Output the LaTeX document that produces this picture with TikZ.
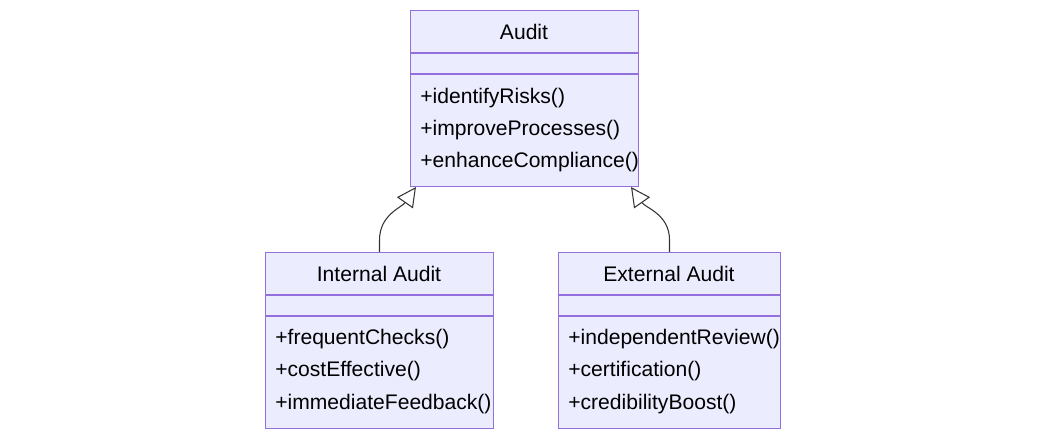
\documentclass[tikz,border=0pt]{standalone}
\usepackage{fontspec}
\setmainfont{Liberation Sans}
\usetikzlibrary{arrows.meta}
\definecolor{boxfill}{HTML}{ECECFF}
\definecolor{boxline}{HTML}{9370DB}
\tikzset{
  cls/.style={draw=boxline, fill=boxfill, line width=0.6pt, anchor=north west, inner sep=0pt},
  mth/.style={anchor=west, inner sep=0pt, font=\fontsize{12}{14}\selectfont},
  ttl/.style={inner sep=0pt, font=\fontsize{12}{14}\selectfont},
  inherit/.style={-{Triangle[open, length=11pt, width=11pt]}, line width=0.6pt, black!80}
}
\begin{document}
\begin{tikzpicture}[x=0.02cm, y=-0.02cm]
		\useasboundingbox (0,0) rectangle (1046,439);
		% class boxes
		\node[cls, minimum width=4.56cm, minimum height=3.52cm] (audit) at (410,10) {};
		\node[cls, minimum width=4.56cm, minimum height=3.52cm] (int) at (265,252) {};
		\node[cls, minimum width=4.44cm, minimum height=3.52cm] (ext) at (558,252) {};
		% dividers
		\draw[boxline, line width=0.6pt] (410,53) -- (638,53) (410,74) -- (638,74);
		\draw[boxline, line width=0.6pt] (265,295) -- (493,295) (265,316) -- (493,316);
		\draw[boxline, line width=0.6pt] (558,295) -- (780,295) (558,316) -- (780,316);
		% titles
		\node[ttl] (audittitle) at (524,32) {Audit};
		\node[ttl] (inttitle) at (379,274) {Internal Audit};
		\node[ttl] (exttitle) at (669,274) {External Audit};
		% methods
		\node[mth] (a1) at (420,98) {+identifyRisks()};
		\node[mth] (a2) at (420,130) {+improveProcesses()};
		\node[mth] (a3) at (420,162) {+enhanceCompliance()};
		\node[mth] (i1) at (275,339) {+frequentChecks()};
		\node[mth] (i2) at (275,371) {+costEffective()};
		\node[mth] (i3) at (275,404) {+immediateFeedback()};
		\node[mth] (e1) at (568,339) {+independentReview()};
		\node[mth] (e2) at (568,371) {+certification()};
		\node[mth] (e3) at (568,404) {+credibilityBoost()};
		% inheritance
		\coordinate (inl) at (416,187);
		\coordinate (inr) at (631,187);
		\draw[inherit] (int.north) -- ++(0,-12) to[out=90, in=-125] (inl);
		\draw[inherit] (ext.north) -- ++(0,-12) to[out=90, in=-55] (inr);
	\end{tikzpicture}
\end{document}
